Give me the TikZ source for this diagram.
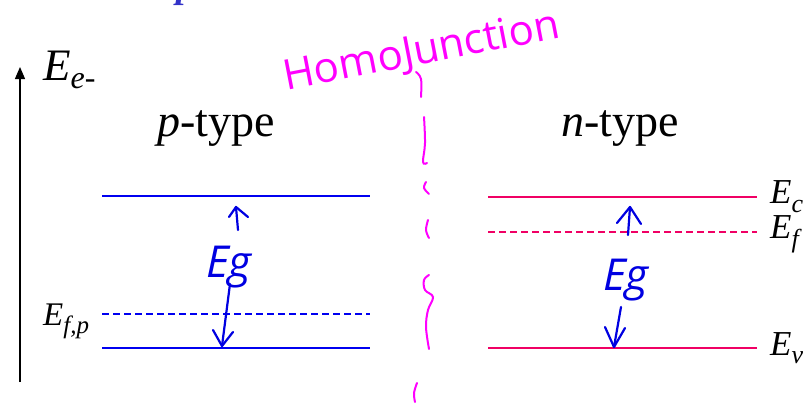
\documentclass[tikz,border=0pt]{standalone}
\usepackage{fontspec}
\setmainfont{Liberation Serif}
\newfontfamily\handfont{Open Sans}
\usetikzlibrary{arrows.meta}
\definecolor{bandblue}{RGB}{0,0,240}
\definecolor{bandpink}{RGB}{240,0,100}
\definecolor{inkmag}{RGB}{255,0,255}
\definecolor{inkblue}{RGB}{0,0,225}
\definecolor{titleblue}{RGB}{50,50,200}
\newcommand\Elab[4]{{\fontsize{#1}{#1}\selectfont\itshape E\raisebox{-#3}{\fontsize{#2}{#2}\selectfont #4}}}
\begin{document}
\begin{tikzpicture}[x=1pt,y=-1pt,
  band/.style={line width=2pt},
  fermi/.style={line width=1.4pt, dash pattern=on 7pt off 4pt},
  lbl/.style={inner sep=0pt, anchor=base west},
  ink/.style={line width=2.2pt, line cap=round, line join=round, inkblue},
  junction/.style={line width=2pt, inkmag, line cap=round}]
\useasboundingbox (0,0) rectangle (809,407);
% cut-off title glyph
\node[titleblue, lbl, font=\fontsize{38pt}{38pt}\selectfont\bfseries\itshape] (title) at (176,-2.5) {p};
% energy axis
\coordinate (ax0) at (20,382);
\coordinate (ax1) at (20,67);
\draw[line width=1.3pt, -{Triangle[length=12pt,width=10pt]}] (ax0) -- (ax1);
\node[lbl] (eaxis) at (43,80) {\Elab{45pt}{32pt}{8pt}{e-}};
% p-type
\node[lbl, font=\fontsize{46pt}{46pt}\selectfont] (ptype) at (157,136) {\textit{p}-type};
\coordinate (pc0) at (102,196); \coordinate (pc1) at (370,196);
\coordinate (pf0) at (102,314); \coordinate (pf1) at (370,314);
\coordinate (pv0) at (102,348); \coordinate (pv1) at (370,348);
\draw[band, bandblue] (pc0) -- (pc1);
\draw[fermi, bandblue] (pf0) -- (pf1);
\draw[band, bandblue] (pv0) -- (pv1);
\node[lbl] (efp) at (43,325) {\Elab{33pt}{25pt}{8pt}{f,p}};
% n-type
\node[lbl, font=\fontsize{46pt}{46pt}\selectfont] (ntype) at (561,136) {\textit{n}-type};
\coordinate (nc0) at (488,197); \coordinate (nc1) at (757,197);
\coordinate (nf0) at (488,232); \coordinate (nf1) at (757,232);
\coordinate (nv0) at (488,348); \coordinate (nv1) at (757,348);
\draw[band, bandpink] (nc0) -- (nc1);
\draw[fermi, bandpink] (nf0) -- (nf1);
\draw[band, bandpink] (nv0) -- (nv1);
\node[lbl] (ec) at (770,203) {\Elab{35pt}{26pt}{9pt}{c}};
\node[lbl] (ef) at (770,238) {\Elab{35pt}{26pt}{9pt}{f}};
\node[lbl] (ev) at (770,355) {\Elab{35pt}{26pt}{8pt}{v}};
% handwriting
\node[inkmag, rotate=11, anchor=base, inner sep=0pt, font=\handfont\fontsize{42pt}{42pt}\selectfont] (homo) at (424,64) {HomoJunction};
\draw[junction] plot[smooth, tension=0.6] coordinates {(416,72) (421,79) (421,97)};
\draw[junction] plot[smooth, tension=0.6] coordinates {(424,117) (425,143) (423,162) (427,163)};
\draw[junction] plot[smooth, tension=0.6] coordinates {(426,182) (424,188) (429,194)};
\draw[junction] plot[smooth, tension=0.6] coordinates {(428,220) (426,230) (429,238)};
\draw[junction] plot[smooth, tension=0.6] coordinates {(429,275) (424,280) (425,290) (433,297) (428,310) (426,327) (429,349)};
\draw[junction] plot[smooth, tension=0.6] coordinates {(417,383) (414,393) (415,402)};
% band gap annotations, p side
\node[inkblue, lbl, font=\handfont\itshape\fontsize{44pt}{44pt}\selectfont] (egp) at (206,277) {Eg};
\coordinate (pu0) at (238,230); \coordinate (pu1) at (236,207);
\coordinate (pul) at (229,217); \coordinate (pur) at (248,217);
\draw[ink] (pu0) -- (pu1);
\draw[ink] (pul) -- (pu1) -- (pur);
\coordinate (pd0) at (230,284); \coordinate (pd1) at (222,346);
\coordinate (pdl) at (213,330); \coordinate (pdr) at (233,332);
\draw[ink] (pd0) -- (pd1);
\draw[ink] (pdl) -- (pd1) -- (pdr);
% band gap annotations, n side
\node[inkblue, lbl, font=\handfont\itshape\fontsize{44pt}{44pt}\selectfont] (egn) at (603,290) {Eg};
\coordinate (nu0) at (628,235); \coordinate (nu1) at (630,207);
\coordinate (nul) at (617,223); \coordinate (nur) at (641,224);
\draw[ink] (nu0) -- (nu1);
\draw[ink] (nul) -- (nu1) -- (nur);
\coordinate (nd0) at (621,307); \coordinate (nd1) at (614,347);
\coordinate (ndl) at (605,327); \coordinate (ndr) at (625,328);
\draw[ink] (nd0) -- (nd1);
\draw[ink] (ndl) -- (nd1) -- (ndr);
\end{tikzpicture}
\end{document}
